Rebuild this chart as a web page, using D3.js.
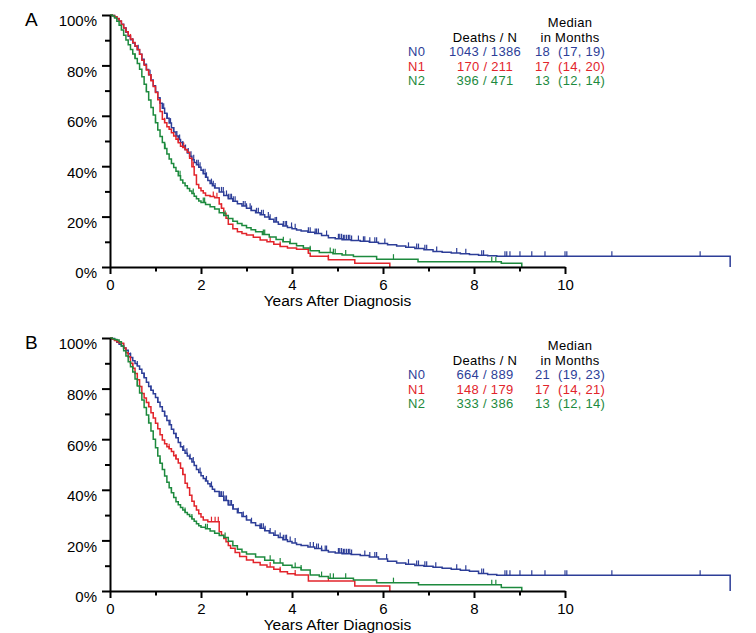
<!DOCTYPE html>
<html><head><meta charset="utf-8">
<script src="https://cdn.jsdelivr.net/npm/d3@7"></script>
<style>body{margin:0;background:#fff}svg{display:block}</style>
</head><body><svg id="chart" width="756" height="633"></svg>
<script>
// ---------- data ----------
const xTicksMajor = [0, 2, 4, 6, 8, 10];
const xTicksMinor = [1, 3, 5, 7, 9];
const yTicksMajor = [0, 20, 40, 60, 80, 100];
const yTicksMinor = [10, 30, 50, 70, 90];
const xTitle = "Years After Diagnosis";
const groups = ["N0", "N1", "N2"];
const colors = ["#2d3e98", "#e2242b", "#1d8a3e"];

const deathsA = ["1043 / 1386", "170 / 211", "396 / 471"];
const medianA = ["18", "17", "13"];
const ciA = ["(17, 19)", "(14, 20)", "(12, 14)"];
const deathsB = ["664 / 889", "148 / 179", "333 / 386"];
const medianB = ["21", "17", "13"];
const ciB = ["(19, 23)", "(14, 21)", "(12, 14)"];

// Panel A survival steps [years, %]
const A_N0 = [[0,100],[0.05,99.8],[0.1,99.3],[0.15,98.5],[0.2,97.5],[0.25,96.3],[0.3,94.8],[0.35,93.2],[0.4,91.6],[0.45,90.2],[0.5,88.9],[0.55,87.6],[0.6,86.2],[0.65,84.4],[0.7,82.4],[0.75,80.5],[0.8,78.4],[0.85,76.3],[0.9,74.2],[0.95,71.9],[1.0,69.4],[1.05,67.2],[1.1,65.0],[1.15,63.0],[1.2,61.0],[1.25,59.0],[1.3,57.1],[1.35,55.3],[1.4,53.6],[1.45,52.0],[1.5,50.6],[1.55,49.4],[1.6,48.0],[1.65,46.6],[1.7,45.2],[1.75,43.9],[1.8,42.6],[1.85,41.5],[1.9,40.6],[1.95,39.6],[2.0,38.4],[2.05,37.0],[2.1,35.6],[2.15,34.3],[2.2,33.1],[2.25,32.2],[2.3,31.3],[2.4,29.8],[2.5,28.4],[2.6,27.1],[2.7,26.1],[2.8,25.1],[2.9,24.2],[3.0,23.3],[3.1,22.4],[3.2,21.5],[3.3,20.7],[3.4,19.8],[3.5,18.9],[3.6,17.9],[3.7,17.0],[3.8,16.3],[3.9,15.7],[4.0,15.2],[4.1,14.7],[4.2,14.3],[4.35,13.8],[4.5,13.3],[4.65,12.5],[4.8,11.6],[4.95,11.2],[5.1,10.8],[5.3,10.5],[5.5,10.2],[5.7,9.8],[5.9,9.3],[6.1,8.8],[6.3,8.3],[6.5,7.8],[6.7,7.3],[6.9,6.8],[7.1,6.2],[7.3,5.9],[7.5,5.6],[7.7,5.3],[7.9,5.0],[8.1,4.7],[8.3,4.5],[8.5,4.3],[13.63,0]];
const A_N1 = [[0,100],[0.05,99.8],[0.1,99.3],[0.15,98.6],[0.2,97.6],[0.25,96.2],[0.3,94.8],[0.35,93.4],[0.4,91.9],[0.45,90.5],[0.5,89.1],[0.55,87.7],[0.6,86.3],[0.65,84.4],[0.7,82.0],[0.75,80.1],[0.8,78.2],[0.85,76.3],[0.9,73.9],[0.95,71.6],[1.0,69.2],[1.05,66.4],[1.1,61.7],[1.15,58.6],[1.2,57.2],[1.25,55.7],[1.3,54.7],[1.35,53.3],[1.4,52.0],[1.45,50.7],[1.5,49.3],[1.55,47.9],[1.6,47.4],[1.65,46.5],[1.7,45.5],[1.75,43.2],[1.8,39.8],[1.85,36.5],[1.9,32.7],[1.95,31.3],[2.0,30.3],[2.05,29.4],[2.1,28.4],[2.2,28.0],[2.3,27.5],[2.4,25.0],[2.45,23.3],[2.5,21.3],[2.55,19.3],[2.6,17.0],[2.7,15.2],[2.8,14.0],[2.9,13.3],[3.0,12.7],[3.15,11.8],[3.3,10.7],[3.45,10.0],[3.6,9.0],[3.74,8.1],[3.9,7.5],[4.1,7.0],[4.36,5.5],[4.4,4.3],[4.8,2.9],[5.38,1.5],[6.15,0]];
const A_N2 = [[0,100],[0.05,99.6],[0.1,98.8],[0.15,97.5],[0.2,95.9],[0.25,94.0],[0.3,92.0],[0.35,90.1],[0.4,88.2],[0.45,86.3],[0.5,84.5],[0.55,82.7],[0.6,80.8],[0.65,78.5],[0.7,75.5],[0.75,72.5],[0.8,69.5],[0.85,66.3],[0.9,63.3],[0.95,60.3],[1.0,57.2],[1.05,54.4],[1.1,51.8],[1.15,49.4],[1.2,47.0],[1.25,44.8],[1.3,42.9],[1.35,41.1],[1.4,39.5],[1.45,38.0],[1.5,36.2],[1.55,34.5],[1.6,33.3],[1.65,32.2],[1.7,31.2],[1.75,30.2],[1.8,29.2],[1.85,28.1],[1.9,27.1],[1.95,26.2],[2.0,25.6],[2.1,24.8],[2.2,23.9],[2.3,23.0],[2.4,21.5],[2.5,20.4],[2.6,19.2],[2.7,18.2],[2.8,17.3],[2.9,16.5],[3.0,15.6],[3.1,14.8],[3.2,14.0],[3.35,12.9],[3.5,11.9],[3.65,10.9],[3.8,10.0],[3.95,9.3],[4.1,8.4],[4.25,7.5],[4.4,6.4],[4.6,5.8],[4.9,5.3],[5.1,4.8],[5.35,4.2],[5.86,3.1],[6.77,2.1],[8.6,1.5],[9.05,0]];

// Panel B survival steps [years, %]
const B_N0 = [[0,100],[0.05,99.8],[0.1,99.2],[0.15,98.3],[0.2,97.5],[0.25,96.8],[0.3,96.0],[0.35,95.2],[0.4,93.8],[0.45,92.3],[0.5,91.0],[0.55,89.9],[0.6,88.9],[0.65,87.6],[0.7,86.1],[0.75,84.3],[0.8,82.5],[0.85,80.8],[0.9,79.3],[0.95,78.0],[1.0,76.5],[1.05,74.6],[1.1,72.8],[1.15,71.0],[1.2,69.2],[1.25,67.4],[1.3,65.7],[1.35,63.9],[1.4,62.3],[1.45,60.6],[1.5,58.7],[1.55,57.0],[1.6,55.6],[1.65,54.4],[1.7,53.4],[1.75,52.3],[1.8,51.0],[1.85,49.6],[1.9,48.0],[1.95,46.8],[2.0,45.6],[2.05,44.5],[2.1,43.5],[2.15,42.4],[2.2,41.3],[2.25,40.2],[2.3,39.3],[2.4,37.5],[2.5,35.8],[2.6,34.0],[2.7,32.4],[2.8,30.9],[2.9,29.4],[3.0,28.1],[3.1,27.0],[3.2,25.9],[3.3,24.8],[3.4,23.8],[3.5,22.9],[3.6,22.0],[3.7,21.1],[3.8,20.3],[3.9,19.6],[4.0,19.0],[4.1,18.4],[4.2,18.0],[4.35,17.4],[4.5,16.8],[4.65,16.0],[4.8,15.4],[4.95,15.0],[5.1,14.7],[5.3,14.4],[5.5,14.0],[5.7,13.4],[5.9,12.6],[6.1,11.8],[6.3,11.1],[6.5,10.6],[6.7,10.1],[6.9,9.8],[7.1,9.4],[7.3,9.0],[7.5,8.6],[7.7,8.2],[7.9,7.8],[8.1,6.9],[8.3,6.5],[8.5,6.2],[13.63,0]];
const B_N1 = [[0,100],[0.05,99.5],[0.1,99.0],[0.15,98.5],[0.2,98.0],[0.25,97.9],[0.3,96.0],[0.35,94.2],[0.4,92.6],[0.45,90.0],[0.5,88.0],[0.55,86.0],[0.6,83.5],[0.65,80.8],[0.7,78.1],[0.75,76.3],[0.8,74.5],[0.85,72.8],[0.9,70.5],[0.95,68.4],[1.0,66.3],[1.05,64.1],[1.1,61.8],[1.15,59.7],[1.2,58.2],[1.25,57.0],[1.3,56.2],[1.35,55.1],[1.4,53.5],[1.45,52.2],[1.5,50.6],[1.55,48.5],[1.6,46.0],[1.65,42.6],[1.7,40.8],[1.75,37.8],[1.8,35.5],[1.85,33.6],[1.9,32.0],[1.95,30.5],[2.0,29.2],[2.05,28.1],[2.15,27.4],[2.4,23.4],[2.45,22.0],[2.5,20.8],[2.55,19.5],[2.6,18.0],[2.65,16.9],[2.75,15.2],[2.85,13.6],[3.0,12.3],[3.15,11.3],[3.3,10.3],[3.45,9.5],[3.6,8.6],[3.74,7.6],[3.9,6.8],[4.07,6.3],[4.36,4.0],[5.38,2.0],[6.15,0]];
const B_N2 = [[0,100],[0.05,99.7],[0.1,99.4],[0.15,99.2],[0.2,98.5],[0.25,96.8],[0.3,95.0],[0.35,92.9],[0.4,90.6],[0.45,88.6],[0.5,86.6],[0.55,83.8],[0.6,81.0],[0.65,78.3],[0.7,75.5],[0.75,72.5],[0.8,69.6],[0.85,66.4],[0.9,63.2],[0.95,60.0],[1.0,56.6],[1.05,53.4],[1.1,50.5],[1.15,48.0],[1.2,45.5],[1.25,43.0],[1.3,40.8],[1.35,38.8],[1.4,37.0],[1.45,35.3],[1.5,34.1],[1.55,33.0],[1.6,32.0],[1.65,31.0],[1.7,30.2],[1.75,29.4],[1.8,28.5],[1.85,27.6],[1.9,26.6],[1.95,25.8],[2.0,25.2],[2.1,24.6],[2.2,23.7],[2.3,22.8],[2.4,21.9],[2.5,21.1],[2.6,19.7],[2.7,17.9],[2.8,16.5],[2.9,15.4],[3.0,14.6],[3.2,13.4],[3.4,12.2],[3.6,11.1],[3.8,10.2],[4.0,9.3],[4.2,8.3],[4.4,6.3],[4.6,5.7],[4.8,5.0],[5.35,4.3],[5.86,3.3],[6.78,2.5],[8.6,1.4],[9.05,0]];

// Censoring times (years)
const censA_N0 = [0.35,0.5,0.62,0.75,0.88,1.0,1.1,1.18,1.26,1.33,1.4,1.47,1.53,1.6,1.66,1.72,1.78,1.84,1.905,1.94,1.98,2.05,2.09,2.12,2.23,2.27,2.31,2.45,2.49,2.56,2.6,2.64,2.67,2.71,2.75,2.93,2.97,3.0,3.08,3.11,3.22,3.26,3.33,3.37,3.48,3.52,3.63,3.66,3.81,3.85,3.88,3.99,4.07,4.36,4.40,4.51,4.54,4.58,4.76,5.02,5.05,5.09,5.13,5.16,5.20,5.24,5.27,5.31,5.46,5.57,5.60,5.71,5.82,5.86,6.04,6.56,6.74,6.78,6.92,6.96,7.18,7.62,7.82,8.17,8.21,8.68,8.72,8.79,9.01,9.27,9.56,10.0,10.04,11.03,12.97];
const censA_N1 = [0.45,0.9,1.2,1.5,1.62,1.83,2.27,2.35,2.45,3.52,3.74,4.36,4.8];
const censA_N2 = [0.55,0.8,1.0,1.21,1.54,1.83,2.05,2.08,2.53,3.37,3.40,3.81,3.96,4.40,4.84,4.91,4.95,5.18,6.23,8.39,8.48];
const censB_N0 = [0.3,0.45,0.6,0.75,0.9,1.05,1.2,1.32,1.45,1.55,1.62,1.69,1.76,1.83,1.98,2.12,2.23,2.42,2.45,2.49,2.53,2.56,2.6,2.64,2.67,2.71,2.82,2.93,3.0,3.11,3.30,3.33,3.37,3.41,3.52,3.63,3.74,3.81,3.85,3.88,3.96,4.07,4.40,4.47,4.54,4.58,4.65,4.73,4.76,5.02,5.05,5.09,5.13,5.16,5.20,5.24,5.27,5.31,5.60,5.71,5.82,5.86,6.08,6.56,6.74,6.78,6.92,6.96,7.16,7.62,7.82,8.17,8.21,8.68,8.72,8.79,9.01,9.27,9.56,10.0,10.04,11.03,12.97];
const censB_N1 = [0.5,0.85,1.3,1.45,1.6,2.23,2.31,2.38,3.52,3.74,4.07,4.80];
const censB_N2 = [0.6,0.85,1.1,1.35,1.65,1.8,2.1,2.14,2.53,3.52,3.74,4.07,4.20,4.65,4.84,4.91,5.18,6.23,8.39,8.48];

// ---------- drawing ----------
const FONT = "'Liberation Sans', Arial, Helvetica, sans-serif";
const svg = d3.select("#chart");

function survAt(data, t) {
  const i = d3.bisector(d => d[0]).right(data, t) - 1;
  return data[Math.max(0, i)][1];
}

const panels = [
  {label: "A", top: 15, bottom: 267, curves: [A_N0, A_N1, A_N2], cens: [censA_N0, censA_N1, censA_N2], deaths: deathsA, median: medianA, ci: ciA},
  {label: "B", top: 338, bottom: 591, curves: [B_N0, B_N1, B_N2], cens: [censB_N0, censB_N1, censB_N2], deaths: deathsB, median: medianB, ci: ciB}
];

panels.forEach(p => {
  const g = svg.append("g");
  const x = d3.scaleLinear().domain([0, 10]).range([110, 565]);
  const y = d3.scaleLinear().domain([0, 100]).range([p.bottom, p.top]);
  const line = d3.line().x(d => x(d[0])).y(d => y(d[1])).curve(d3.curveStepAfter);

  p.curves.forEach((c, i) => {
    const cg = g.append("g");
    cg.append("path").attr("d", line(c)).attr("fill", "none")
      .attr("stroke", colors[i]).attr("stroke-width", 1.5);
    cg.selectAll("line").data(p.cens[i]).join("line")
      .attr("x1", t => x(t)).attr("x2", t => x(t))
      .attr("y1", t => y(survAt(c, t))).attr("y2", t => y(survAt(c, t)) - 5)
      .attr("stroke", colors[i]).attr("stroke-width", 1.2);
  });

  // y axis
  const ya = g.append("g").attr("transform", "translate(110,0)");
  ya.call(d3.axisLeft(y).tickValues(yTicksMajor).tickSize(8).tickSizeOuter(0).tickPadding(5).tickFormat(d => d + "%"));
  const yMin = g.append("g").attr("transform", "translate(110,0)");
  yMin.call(d3.axisLeft(y).tickValues(yTicksMinor).tickSize(5).tickSizeOuter(0).tickFormat(""));
  yMin.select(".domain").remove();
  ya.selectAll("text").attr("dy", "0.72em");

  // x axis
  const xa = g.append("g").attr("transform", `translate(0,${p.bottom})`);
  xa.call(d3.axisBottom(x).tickValues(xTicksMajor).tickSize(7).tickSizeOuter(0).tickPadding(5));
  const xMin = g.append("g").attr("transform", `translate(0,${p.bottom})`);
  xMin.call(d3.axisBottom(x).tickValues(xTicksMinor).tickSize(4.5).tickSizeOuter(0).tickFormat(""));
  xMin.select(".domain").remove();

  [ya, yMin, xa, xMin].forEach(a => {
    a.attr("font-family", FONT).attr("font-size", 15);
    a.selectAll("path,line").attr("stroke", "#000").attr("stroke-width", 2);
    a.selectAll("text").attr("fill", "#000");
  });

  g.append("text").attr("x", 337.5).attr("y", p.bottom + 39)
    .attr("text-anchor", "middle").attr("font-family", FONT).attr("font-size", 15.5)
    .text(xTitle);

  g.append("text").attr("x", 25).attr("y", p.top + 11)
    .attr("font-family", FONT).attr("font-size", 19).text(p.label);

  // legend
  const lg = g.append("g").attr("font-family", FONT).attr("font-size", 13).attr("letter-spacing", 0.3);
  lg.append("text").attr("x", 570).attr("y", p.top + 12).attr("text-anchor", "middle").text("Median");
  lg.append("text").attr("x", 485).attr("y", p.top + 26.5).attr("text-anchor", "middle").text("Deaths / N");
  lg.append("text").attr("x", 570).attr("y", p.top + 26.5).attr("text-anchor", "middle").text("in Months");
  groups.forEach((gname, i) => {
    const yy = p.top + 41 + i * 14.5;
    lg.append("text").attr("x", 408).attr("y", yy).attr("fill", colors[i]).text(gname);
    lg.append("text").attr("x", 485).attr("y", yy).attr("fill", colors[i]).attr("text-anchor", "middle").text(p.deaths[i]);
    lg.append("text").attr("x", 550).attr("y", yy).attr("fill", colors[i]).attr("text-anchor", "end").text(p.median[i]);
    lg.append("text").attr("x", 558).attr("y", yy).attr("fill", colors[i]).text(p.ci[i]);
  });
});
</script></body></html>
